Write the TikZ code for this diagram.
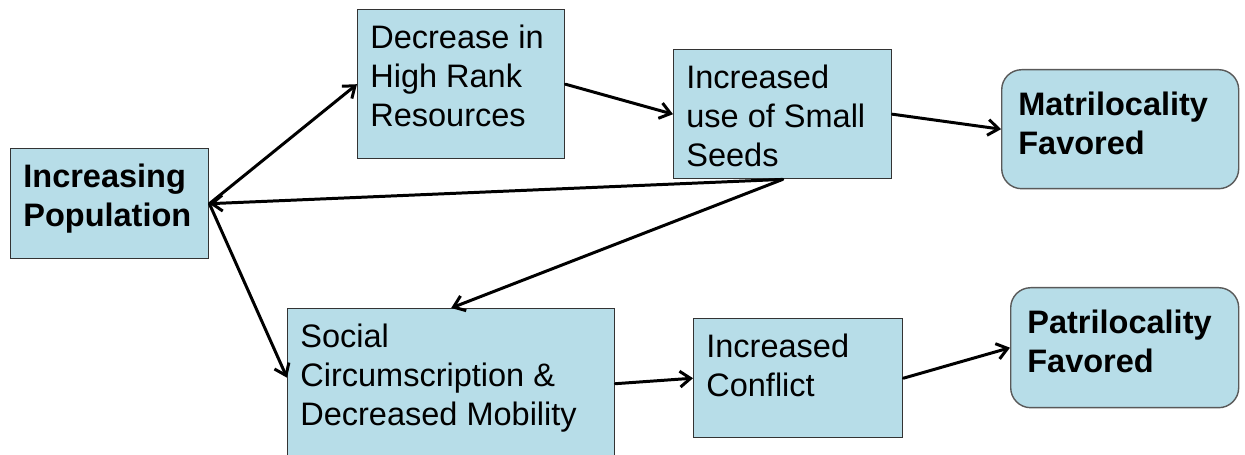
\documentclass[tikz,border=0pt]{standalone}
\usepackage{fontspec}
\setmainfont{Liberation Sans}
\usepackage{tikz}
\usetikzlibrary{positioning}
\usetikzlibrary{arrows.meta}
\usepackage{xcolor}
\definecolor{boxblue}{RGB}{183,221,232}

\begin{document}
\begin{tikzpicture}[scale=1,
    box/.style={draw=black!80, fill=boxblue, line width=0.8pt, inner sep=0pt, anchor=north west},
    roundbox/.style={box, draw=black!65, rounded corners=0.4cm},
    boxtext/.style={anchor=north west, inner sep=0pt, align=left, font=\fontsize{18.5}{22.1}\selectfont},
    arrow/.style={line width=1.7pt, line cap=round, -{Straight Barb[length=6pt,width=9pt]}}]
\useasboundingbox (0,0) rectangle (24.9,-9.1);

% Boxes
\node[box, minimum width=3.96cm, minimum height=2.20cm] (pop) at (0.20,-2.96) {};
\node[boxtext, font=\fontsize{18.5}{22.1}\selectfont\bfseries] (poptxt) at ([shift={(0.26,-0.32)}]pop.north west) {Increasing\\Population};

\node[box, minimum width=4.14cm, minimum height=2.98cm] (dec) at (7.14,-0.18) {};
\node[boxtext] (dectxt) at ([shift={(0.26,-0.32)}]dec.north west) {Decrease in\\High Rank\\Resources};

\node[box, minimum width=4.36cm, minimum height=2.58cm] (seeds) at (13.46,-0.98) {};
\node[boxtext] (seedstxt) at ([shift={(0.26,-0.32)}]seeds.north west) {Increased\\use of Small\\Seeds};

\node[roundbox, minimum width=4.74cm, minimum height=2.38cm] (matri) at (20.02,-1.38) {};
\node[boxtext, font=\fontsize{18.5}{22.1}\selectfont\bfseries] (matritxt) at ([shift={(0.34,-0.46)}]matri.north west) {Matrilocality\\Favored};

\node[box, minimum width=6.54cm, minimum height=3.00cm] (social) at (5.74,-6.16) {};
\node[boxtext] (socialtxt) at ([shift={(0.26,-0.32)}]social.north west) {Social\\Circumscription \&\\Decreased Mobility};

\node[box, minimum width=4.18cm, minimum height=2.38cm] (conflict) at (13.86,-6.36) {};
\node[boxtext] (conflicttxt) at ([shift={(0.26,-0.32)}]conflict.north west) {Increased\\Conflict};

\node[roundbox, minimum width=4.56cm, minimum height=2.40cm] (patri) at (20.20,-5.74) {};
\node[boxtext, font=\fontsize{18.5}{22.1}\selectfont\bfseries] (patritxt) at ([shift={(0.34,-0.46)}]patri.north west) {Patrilocality\\Favored};

\coordinate (socin) at ([yshift=0.12cm]social.west);

% Arrows
\foreach \a/\b in {pop.east/dec.west, dec.east/seeds.west, seeds.east/matri.west,
                   seeds.south/pop.east, seeds.south/social.north, pop.east/socin,
                   social.east/conflict.west, conflict.east/patri.west} {
    \draw[arrow] (\a) -- (\b);
}
\end{tikzpicture}
\end{document}
